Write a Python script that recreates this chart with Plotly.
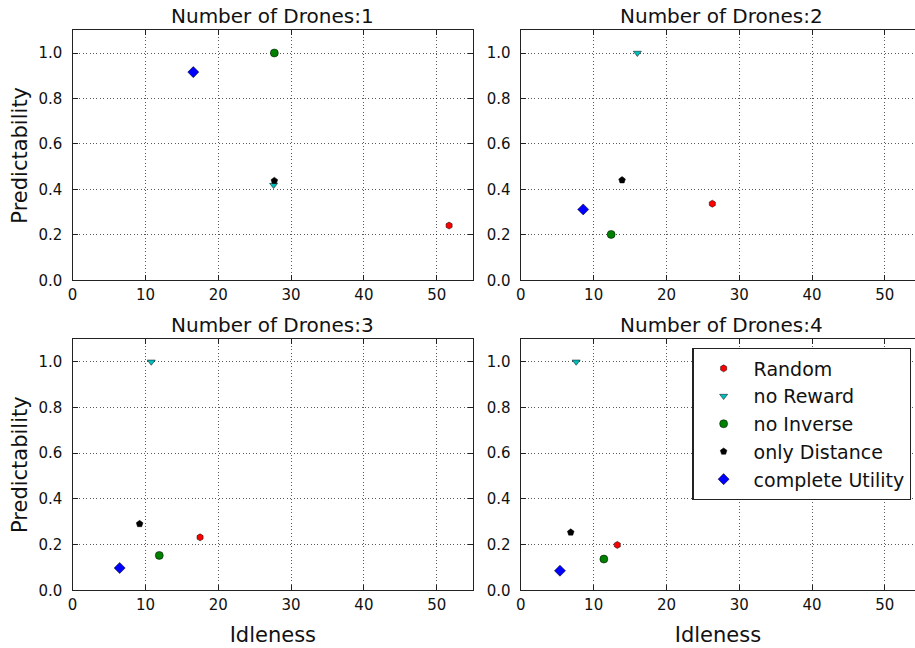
import plotly.graph_objects as go

# ---- data ----
drone_counts = [1, 2, 3, 4]
series_names = ["Random", "no Reward", "no Inverse", "only Distance", "complete Utility"]

random_idle = [51.7, 26.3, 17.5, 13.25]
random_pred = [0.241, 0.337, 0.232, 0.199]

noreward_idle = [27.6, 16.0, 10.8, 7.6]
noreward_pred = [0.419, 1.0, 1.0, 1.0]

noinverse_idle = [27.7, 12.4, 11.9, 11.4]
noinverse_pred = [1.0, 0.202, 0.153, 0.137]

onlydist_idle = [27.7, 13.9, 9.2, 6.85]
onlydist_pred = [0.438, 0.441, 0.291, 0.254]

complete_idle = [16.57, 8.56, 6.46, 5.37]
complete_pred = [0.916, 0.312, 0.098, 0.086]

x_ticks = [0, 10, 20, 30, 40, 50]
y_ticks = [0.0, 0.2, 0.4, 0.6, 0.8, 1.0]

# ---- styles ----
series = [
    (series_names[0], random_idle, random_pred, "#ff0000", "hexagon", 7),
    (series_names[1], noreward_idle, noreward_pred, "#00bfbf", "triangle-down", 7),
    (series_names[2], noinverse_idle, noinverse_pred, "#008000", "circle", 8),
    (series_names[3], onlydist_idle, onlydist_pred, "#000000", "pentagon", 7),
    (series_names[4], complete_idle, complete_pred, "#0000ff", "diamond", 8.5),
]

W, H = 915, 648
left_dom = [68 / W, 470.7 / W]
right_dom = [518.7 / W, 1.0]
top_dom = [1 - 284.3 / H, 1 - 30.7 / H]
bot_dom = [1 - 598.7 / H, 1 - 343.7 / H]
right_xmax = 55 * (W - 518.7) / (921.3 - 518.7)

panels = [
    (left_dom, top_dom, 55),
    (right_dom, top_dom, right_xmax),
    (left_dom, bot_dom, 55),
    (right_dom, bot_dom, right_xmax),
]

fig = go.Figure()
FONT = "DejaVu Sans"

for i, (xd, yd, xmax) in enumerate(panels):
    k = "" if i == 0 else str(i + 1)
    xa, ya = "x" + k, "y" + k
    for name, xs, ys, col, sym, sz in series:
        fig.add_trace(go.Scatter(
            x=[xs[i]], y=[ys[i]], mode="markers", name=name,
            legendgroup=name, showlegend=(i == 0),
            marker=dict(color=col, symbol=sym, size=sz,
                        line=dict(color="black", width=0.5)),
            xaxis=xa, yaxis=ya,
        ))
    is_right = i in (1, 3)
    is_bottom = i in (2, 3)
    common = dict(
        showline=True, linecolor="#222222", linewidth=1.4,
        ticks="inside", ticklen=5, tickwidth=1, tickcolor="#222222",
        showgrid=True, gridcolor="rgba(0,0,0,0.65)", gridwidth=1, griddash="1px,2.4px",
        zeroline=False, tickfont=dict(family=FONT, size=15, color="#111111"),
    )
    fig.layout["xaxis" + k] = dict(
        common, domain=xd, anchor=ya, range=[0, xmax], tickvals=x_ticks,
        ticktext=[str(v) for v in x_ticks], mirror="ticks",
        title=dict(text="Idleness" if is_bottom else "",
                   font=dict(family=FONT, size=21, color="#111111"), standoff=14),
    )
    fig.layout["yaxis" + k] = dict(
        common, domain=yd, anchor=xa, range=[0, 1.1], tickvals=y_ticks,
        ticktext=["%.1f" % v for v in y_ticks],
        mirror=False if is_right else "ticks",
        title=dict(text="" if is_right else "Predictability",
                   font=dict(family=FONT, size=21, color="#111111"), standoff=5),
        ticklabelstandoff=6,
    )
    fig.add_annotation(
        text="Number of Drones:%d" % drone_counts[i],
        x=(xd[0] + (xd[0] + (xd[1] - xd[0]) * 55 / xmax)) / 2 if is_right else (xd[0] + xd[1]) / 2,
        y=yd[1], xref="paper", yref="paper", xanchor="center", yanchor="bottom",
        yshift=0, showarrow=False, font=dict(family=FONT, size=20, color="#111111"),
    )

fig.update_layout(
    width=W, height=H,
    margin=dict(l=0, r=0, t=0, b=0),
    paper_bgcolor="white", plot_bgcolor="white",
    font=dict(family=FONT, color="#111111"),
    legend=dict(
        x=691 / W, y=1 - 353 / H, xanchor="left", yanchor="top",
        bordercolor="#222222", borderwidth=1.4, bgcolor="white",
        font=dict(family=FONT, size=19, color="#111111"),
        itemwidth=50, tracegroupgap=0,
    ),
)

fig.write_html(
    "out.html",
    config={"displayModeBar": False},
    post_script="document.body.style.margin='0';document.body.style.overflow='hidden';",
)
